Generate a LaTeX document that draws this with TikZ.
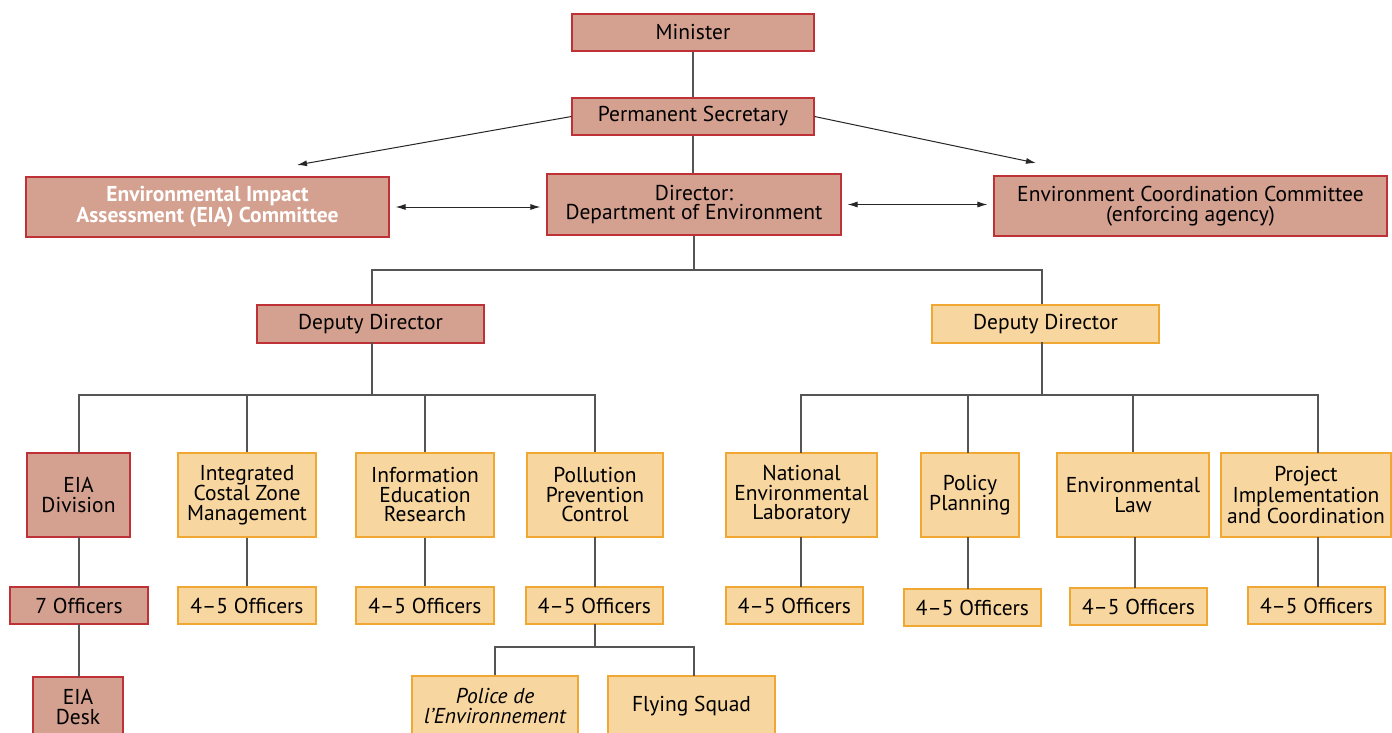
\documentclass[tikz,border=0pt]{standalone}
\usepackage{fontspec}
\setmainfont{PT Sans}
\usetikzlibrary{arrows.meta}
\definecolor{brfill}{RGB}{212,160,143}
\definecolor{brdraw}{RGB}{190,50,55}
\definecolor{yefill}{RGB}{248,214,160}
\definecolor{yedraw}{RGB}{240,168,50}
\definecolor{ln}{RGB}{85,85,85}
\tikzset{
  box/.style={inner sep=0pt, align=center, line width=1.1pt, font=\fontsize{21.5}{19.5}\selectfont},
  brbox/.style={box, fill=brfill, draw=brdraw},
  yebox/.style={box, fill=yefill, draw=yedraw},
  conn/.style={draw=ln, line width=1.2pt},
  arr/.style={draw=black!85, line width=1pt, -{Latex[length=10pt,width=6pt]}},
  darr/.style={draw=black!85, line width=1pt, {Latex[length=10pt,width=6pt]}-{Latex[length=10pt,width=6pt]}},
}
\newcommand{\bx}[6]{\node[#1, minimum width=#4pt, minimum height=#5pt] (#2) at (#3) {#6};}
\begin{document}
\begin{tikzpicture}[x=1pt,y=-1pt]
\clip (0,0) rectangle (1392,732);
\fill[white] (0,0) rectangle (1392,732);
% top
\bx{brbox}{min}{693,32.5}{242}{37}{Minister}
\bx{brbox}{ps}{693,116.5}{242}{37}{Permanent Secretary}
\bx{brbox}{dir}{694,204.5}{294}{61}{Director:\\Department of Environment}
\node[brbox, minimum width=363pt, minimum height=60pt, text=white, font=\fontsize{21.5}{19.5}\selectfont\bfseries] (eiac) at (207.5,207) {Environmental Impact\\Assessment (EIA) Committee};
\bx{brbox}{ecc}{1190.5,206}{393}{60}{Environment Coordination Committee\\(enforcing agency)}
% deputy directors
\bx{brbox}{ddl}{370.5,324}{227}{38}{Deputy Director}
\bx{yebox}{ddr}{1045.5,324}{227}{38}{Deputy Director}
% divisions
\bx{brbox}{eiad}{78.5,495}{103}{84}{EIA\\Division}
\bx{yebox}{iczm}{247,495}{138}{84}{Integrated\\Costal Zone\\Management}
\bx{yebox}{ier}{425,495}{138}{84}{Information\\Education\\Research}
\bx{yebox}{ppc}{595,495}{136}{84}{Pollution\\Prevention\\Control}
\bx{yebox}{nel}{801.5,495}{151}{84}{National\\Environmental\\Laboratory}
\bx{yebox}{pp}{970,495}{98}{84}{Policy\\Planning}
\bx{yebox}{el}{1133,495}{152}{84}{Environmental\\Law}
\bx{yebox}{pic}{1306,495}{170}{84}{Project\\Implementation\\and Coordination}
% officers
\bx{brbox}{o1}{79,605.5}{138}{37}{7 Officers}
\bx{yebox}{o2}{247,605.5}{138}{37}{4--5 Officers}
\bx{yebox}{o3}{425,605.5}{138}{37}{4--5 Officers}
\bx{yebox}{o4}{594.5,605.5}{137}{37}{4--5 Officers}
\bx{yebox}{o5}{794.5,605.5}{137}{37}{4--5 Officers}
\bx{yebox}{o6}{972.5,607.5}{137}{37}{4--5 Officers}
\bx{yebox}{o7}{1138.5,606.5}{137}{37}{4--5 Officers}
\bx{yebox}{o8}{1316.5,605.5}{137}{37}{4--5 Officers}
% bottom
\bx{brbox}{desk}{78,707}{90}{60}{EIA\\Desk}
\bx{yebox}{pol}{495,706}{166}{60}{\itshape Police de\\\itshape l'Environnement}
\bx{yebox}{fly}{691.5,706}{167}{60}{Flying Squad}
% connectors top
\draw[conn] (min) -- (ps);
\draw[conn] (ps.south) -- (ps.south |- dir.north);
\coordinate (al) at (297,165);
\coordinate (ar) at (1036,163);
\draw[arr] (ps.west) -- (al);
\draw[arr] (ps.east) -- (ar);
\draw[darr, shorten <=6pt, shorten >=6pt] (eiac.east) -- (eiac.east -| dir.west);
\draw[darr, shorten <=6pt, shorten >=6pt] (dir.east) -- (dir.east -| ecc.west);
\coordinate (j0) at (694,270);
\draw[conn] (dir.south) -- (j0);
\draw[conn] (j0) -| (372,304);
\draw[conn] (j0) -| (1042,304);
% left branch
\coordinate (jl) at (372,395);
\draw[conn] (372,342) -- (jl);
\draw[conn] (jl) -| (79,453);
\draw[conn] (jl) -| (iczm.north);
\draw[conn] (jl) -| (ier.north);
\draw[conn] (jl) -| (ppc.north);
% right branch
\coordinate (jr) at (1042,395);
\draw[conn] (1042,342) -- (jr);
\draw[conn] (jr) -| (801,453);
\draw[conn] (jr) -| (968,453);
\draw[conn] (jr) -| (el.north);
\draw[conn] (jr) -| (1318,453);
% division to officers
\draw[conn] (79,537) -- (79,587);
\draw[conn] (iczm) -- (o2);
\draw[conn] (ier) -- (o3);
\draw[conn] (595,537) -- (595,587);
\draw[conn] (801,537) -- (801,587);
\draw[conn] (968,537) -- (968,589);
\draw[conn] (1135,537) -- (1135,588);
\draw[conn] (1318,537) -- (1318,587);
\draw[conn] (79,624) -- (79,677);
% PPC officers to units
\coordinate (jp) at (595,647);
\draw[conn] (595,624) -- (jp);
\draw[conn] (jp) -| (pol.north);
\draw[conn] (jp) -| (694,676);
\end{tikzpicture}
\end{document}
